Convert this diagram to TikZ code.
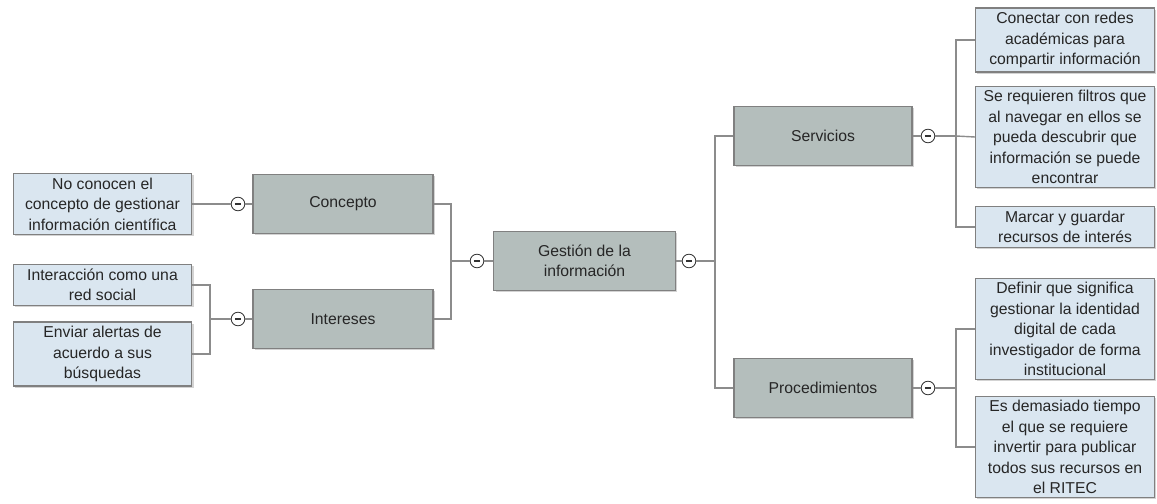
\documentclass[tikz,border=0pt]{standalone}
\usepackage{fontspec}
\setmainfont{Liberation Sans}
\usetikzlibrary{shadows}
\definecolor{topicgray}{HTML}{B4BEBC}
\definecolor{leafblue}{HTML}{DAE6F0}
\definecolor{edgegray}{HTML}{8C8C8C}
\tikzset{
	box/.style={draw=black!50, line width=0.8pt, align=center, text=black!85,
			font=\fontsize{11.2}{14.5}\selectfont, inner ysep=3pt,
			drop shadow={shadow xshift=1.2pt, shadow yshift=-1.2pt, opacity=0.35}},
	topic/.style={box, fill=topicgray, minimum height=1.48cm},
	leaf/.style={box, fill=leafblue, minimum width=4.47cm},
	fold/.style={circle, draw=black!80, fill=white, line width=0.6pt, inner sep=0pt, minimum size=0.34cm,
			path picture={\draw[line width=0.9pt] ([xshift=-2.2pt]path picture bounding box.center) -- ([xshift=2.2pt]path picture bounding box.center);}},
	link/.style={draw=edgegray, line width=1pt},
}
\begin{document}
\begin{tikzpicture}[x=0.025cm, y=-0.025cm]
		\useasboundingbox (0,0) rectangle (1157,504);

		% topics
		\node[topic, minimum width=4.53cm] (gest) at (584.5,261) {Gestión de la\\información};
		\node[topic, minimum width=4.5cm] (conc) at (343,204) {Concepto};
		\node[topic, minimum width=4.5cm] (inte) at (343,319) {Intereses};
		\node[topic, minimum width=4.45cm] (serv) at (823,136) {Servicios};
		\node[topic, minimum width=4.45cm] (proc) at (823,388) {Procedimientos};

		% left leaves
		\node[leaf] (l1) at (102.5,204) {No conocen el\\concepto de gestionar\\información científica};
		\node[leaf] (l2) at (102.5,285) {Interacción como una\\red social};
		\node[leaf] (l3) at (102.5,354) {Enviar alertas de\\acuerdo a sus\\búsquedas};

		% right leaves
		\node[leaf] (r1) at (1065,40) {Conectar con redes\\académicas para\\compartir información};
		\node[leaf] (r2) at (1065,137) {Se requieren filtros que\\al navegar en ellos se\\pueda descubrir que\\información se puede\\encontrar};
		\node[leaf] (r3) at (1065,227) {Marcar y guardar\\recursos de interés};
		\node[leaf] (r4) at (1065,329) {Definir que significa\\gestionar la identidad\\digital de cada\\investigador de forma\\institucional};
		\node[leaf] (r5) at (1065,447) {Es demasiado tiempo\\el que se requiere\\invertir para publicar\\todos sus recursos en\\el RITEC};

		% fold buttons
		\foreach \n/\x/\y in {fc/238/204, fi/238/319, fgl/477/261, fgr/689/261, fs/928/136, fp/928/388} {
				\node[fold] (\n) at (\x,\y) {};
			}

		% junctions
		\coordinate (bi) at (210,319);
		\coordinate (bgl) at (451,261);
		\coordinate (bgr) at (715,261);
		\coordinate (bs) at (956,136);
		\coordinate (bp) at (956,388);

		\draw[link] (conc.west) -- (fc.east);
		\draw[link] (fc.west) -- (l1.east);

		\draw[link] (inte.west) -- (fi.east);
		\draw[link] (fi.west) -- (bi) |- (l2.east);
		\draw[link] (bi) |- (l3.east);

		\draw[link] (gest.west) -- (fgl.east);
		\draw[link] (fgl.west) -- (bgl) |- (conc.east);
		\draw[link] (bgl) |- (inte.east);

		\draw[link] (gest.east) -- (fgr.west);
		\draw[link] (fgr.east) -- (bgr) |- (serv.west);
		\draw[link] (bgr) |- (proc.west);

		\draw[link] (serv.east) -- (fs.west);
		\draw[link] (fs.east) -- (bs) |- (r1.west);
		\draw[link] (bs) -- (r2.west);
		\draw[link] (bs) |- (r3.west);

		\draw[link] (proc.east) -- (fp.west);
		\draw[link] (fp.east) -- (bp) |- (r4.west);
		\draw[link] (bp) |- (r5.west);
	\end{tikzpicture}
\end{document}
